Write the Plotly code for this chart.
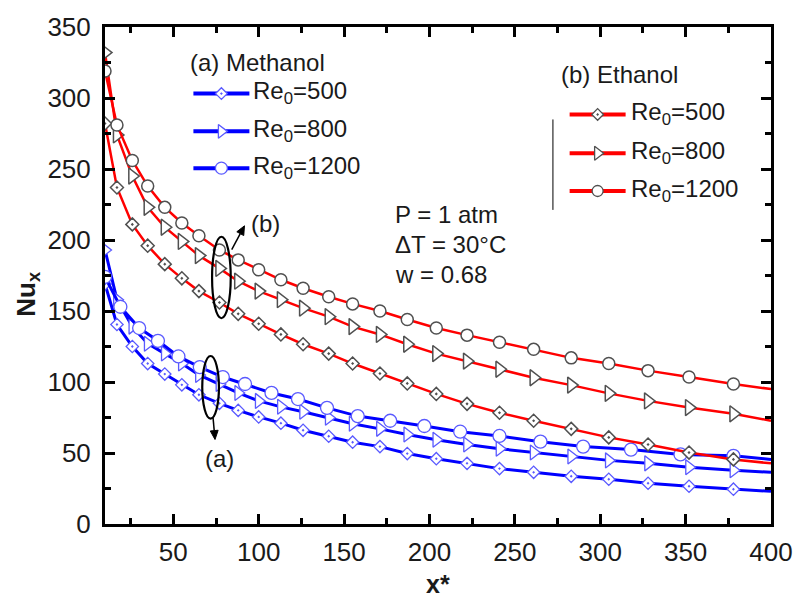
import math
import plotly.graph_objects as go

# ---- data -------------------------------------------------------------
# common axial positions (x*) for five of the six curves
x_pts = [10, 17, 26, 35, 45, 55, 65, 77, 88, 100, 113, 126, 141, 155, 171,
         187, 204, 222, 241, 261, 283, 305, 328, 352, 378, 400]

# Ethanol
eth_re500 = [282, 237, 211, 196, 183, 173, 164, 156, 148, 141, 133.5, 126.6, 120,
             113, 106, 99, 91.6, 84.6, 78.3, 72.7, 67, 61, 56, 50.3, 45.5, 42.7]
eth_re800 = [332, 274, 245, 223, 209, 199, 189, 180, 171, 164, 158, 152, 146,
             139, 133.5, 126.6, 120, 114.7, 109, 103, 97.8, 92, 86.7, 82, 77.6, 72.7]
eth_re1200 = [319, 281, 256, 238, 223, 212, 203, 193, 186, 179, 172, 166, 160,
              155, 150, 144, 138, 133, 128, 123, 117, 113, 108, 103.5, 98.6, 95]

# Methanol
meth_re500 = [169, 140.5, 125, 113, 105.6, 98, 91, 85, 80, 75.4, 71, 66, 61.8,
              57.6, 54.5, 49.6, 46, 42.7, 39, 36.4, 33.6, 31.5, 28.7, 26.6, 24.5, 23]
meth_re800 = [193, 158, 139, 127, 120, 113, 105, 98.6, 92.3, 86.7, 82.5, 79, 74.8,
              70.6, 67, 63, 59.4, 56, 53, 50.3, 47.6, 44.8, 42.7, 40, 37.8, 36.4]
x_meth1200 = [10, 19, 30, 41, 53, 65.5, 79, 92, 107.5, 123, 140, 158, 177, 197,
              218, 241, 265, 290, 318, 347, 378, 400]
meth_re1200 = [174, 153, 138, 129, 118, 110.5, 103.5, 98.6, 92.3, 88, 81.8, 76,
               72.7, 69, 65, 62, 58, 54.5, 52.4, 49, 48, 45.5]

legend_labels = ["Re<sub>0</sub>=500", "Re<sub>0</sub>=800", "Re<sub>0</sub>=1200"]
x_ticks = [50, 100, 150, 200, 250, 300, 350, 400]
y_ticks = [0, 50, 100, 150, 200, 250, 300, 350]

# ---- styling ----------------------------------------------------------
FONT = "Liberation Sans, Arial, sans-serif"
TXT = "#1a1a1a"
RED = "#ff0000"
BLUE = "#0000ff"
BLUE_EDGE = "#5a5aff"
GREY_EDGE = "#505050"

W, H = 805, 602
L, R, T, B = 105, 783, 24, 524  # plot area in pixels


def px(x, y):
    """Pixel position -> paper fraction."""
    return (x - L) / (R - L), (B - y) / (B - T)


fig = go.Figure()

eth = [
    (eth_re500, "diamond-dot", 10),
    (eth_re800, "triangle-right", 14),
    (eth_re1200, "circle", 12),
]
meth = [
    (x_pts, meth_re500, "diamond-dot", 9.5),
    (x_pts, meth_re800, "triangle-right", 13),
    (x_meth1200, meth_re1200, "circle", 13),
]

# methanol curves
for xs, ys, sym, sz in meth:
    fig.add_trace(go.Scatter(x=xs, y=ys, mode="lines",
                             line=dict(color=BLUE, width=3),
                             showlegend=False, hoverinfo="skip"))
    fig.add_trace(go.Scatter(x=xs[:-1], y=ys[:-1], mode="markers",
                             marker=dict(symbol=sym, size=sz, color="white",
                                         line=dict(color=BLUE_EDGE, width=1.3)),
                             showlegend=False))

# ethanol curves
for ys, sym, sz in eth:
    fig.add_trace(go.Scatter(x=x_pts, y=ys, mode="lines",
                             line=dict(color=RED, width=2.5),
                             showlegend=False, hoverinfo="skip"))
    fig.add_trace(go.Scatter(x=x_pts[:-1], y=ys[:-1], mode="markers",
                             marker=dict(symbol=sym, size=sz, color="white",
                                         line=dict(color=GREY_EDGE, width=1.5)),
                             showlegend=False))

# ---- hand-drawn legends on a pixel-space overlay ---------------------
def legend_block(x0, x1, y_rows, syms, line_col, line_w, edge, sizes):
    xm = (x0 + x1) / 2
    for y, sym, sz in zip(y_rows, syms, sizes):
        fig.add_trace(go.Scatter(x=[x0, x1], y=[y, y], mode="lines",
                                 line=dict(color=line_col, width=line_w),
                                 xaxis="x2", yaxis="y2", showlegend=False,
                                 hoverinfo="skip"))
        fig.add_trace(go.Scatter(x=[xm], y=[y], mode="markers",
                                 marker=dict(symbol=sym, size=sz, color="white",
                                             line=dict(color=edge, width=1.3)),
                                 xaxis="x2", yaxis="y2", showlegend=False,
                                 hoverinfo="skip"))

syms = ["diamond-dot", "triangle-right", "circle"]
meth_rows = [91, 129, 166]
eth_rows = [112, 151, 189]
legend_block(195, 252, meth_rows, syms, BLUE, 4, BLUE_EDGE, [9, 12, 12])
legend_block(578, 635, eth_rows, syms, RED, 4, GREY_EDGE, [9, 12, 11])

annotations = []


def px_text(x, y, text, size=24, anchor="left", **kw):
    xp, yp = px(x, y)
    annotations.append(dict(x=xp, y=yp, xref="paper", yref="paper", text=text,
                            showarrow=False, xanchor=anchor, yanchor="middle",
                            font=dict(family=FONT, size=size, color=TXT),
                            **kw))


px_text(189, 60, "(a) Methanol")
for y, lab in zip(meth_rows, legend_labels):
    px_text(254, y - 1, lab)
px_text(567, 72, "(b) Ethanol")
for y, lab in zip(eth_rows, legend_labels):
    px_text(638, y - 1, lab)

px_text(398, 213, "P = 1 atm")
px_text(398, 243, "\u0394T = 30\u00b0C")
px_text(398, 273, "w = 0.68")

# group labels
px_text(252, 222, "(b)")
px_text(205, 458, "(a)")

# axis titles
px_text(26, 293, "<b>Nu<sub>x</sub></b>", size=26, anchor="center", textangle=-90)
px_text(444, 584, "<b>x*</b>", size=25, anchor="center")

shapes = []


def ellipse(x0, x1, y0, y1):
    a, b = px(x0, y1)
    c, d = px(x1, y0)
    shapes.append(dict(type="circle", xref="paper", yref="paper",
                       x0=a, x1=c, y0=b, y1=d,
                       line=dict(color="black", width=2.2)))


def arrow(tail, head, head_len=9, half_w=4):
    dx, dy = head[0] - tail[0], head[1] - tail[1]
    n = math.hypot(dx, dy)
    ux, uy = dx / n, dy / n
    bx, by = head[0] - head_len * ux, head[1] - head_len * uy
    px_, py_ = -uy, ux
    c1 = (bx + half_w * px_, by + half_w * py_)
    c2 = (bx - half_w * px_, by - half_w * py_)
    t0, t1 = px(*tail), px(bx, by)
    shapes.append(dict(type="line", xref="paper", yref="paper",
                       x0=t0[0], y0=t0[1], x1=t1[0], y1=t1[1],
                       line=dict(color="black", width=1.5)))
    pts = [px(*head), px(*c1), px(*c2)]
    path = "M{:.5f},{:.5f} L{:.5f},{:.5f} L{:.5f},{:.5f} Z".format(
        *pts[0], *pts[1], *pts[2])
    shapes.append(dict(type="path", xref="paper", yref="paper", path=path,
                       fillcolor="black", line=dict(color="black", width=1)))


# ellipses marking each fluid group, with pointer arrows
ellipse(214, 233, 235, 317)
ellipse(204, 221, 355, 418)
arrow((234, 248), (247, 224))
arrow((215, 417), (217, 439))

# separator next to ethanol legend
s0, s1 = px(561, 117), px(561, 208)
shapes.append(dict(type="line", xref="paper", yref="paper",
                   x0=s0[0], x1=s1[0], y0=s0[1], y1=s1[1],
                   line=dict(color="black", width=1)))

axis_common = dict(showline=True, linecolor="black", linewidth=3, mirror="allticks",
                   ticks="inside", tickwidth=2.5, tickcolor="black",
                   showgrid=False, zeroline=False,
                   tickfont=dict(family=FONT, size=26, color=TXT))

fig.update_layout(
    width=W, height=H,
    margin=dict(l=L, r=W - R, t=T, b=H - B),
    plot_bgcolor="white", paper_bgcolor="white",
    showlegend=False,
    xaxis=dict(range=[10, 400], tickvals=x_ticks, ticklen=10,
               minor=dict(dtick=25, tick0=0, ticklen=6, tickwidth=2.5,
                          ticks="inside", tickcolor="black"),
               ticklabelstandoff=3, **axis_common),
    yaxis=dict(range=[0, 350], tickvals=y_ticks, ticklen=10,
               minor=dict(dtick=25, tick0=0, ticklen=6, tickwidth=2.5,
                          ticks="inside", tickcolor="black"),
               ticklabelstandoff=6, **axis_common),
    xaxis2=dict(overlaying="x", range=[L, R], visible=False, fixedrange=True),
    yaxis2=dict(overlaying="y", range=[B, T], visible=False, fixedrange=True),
    annotations=annotations,
    shapes=shapes,
)

fig.write_html("out.html")
